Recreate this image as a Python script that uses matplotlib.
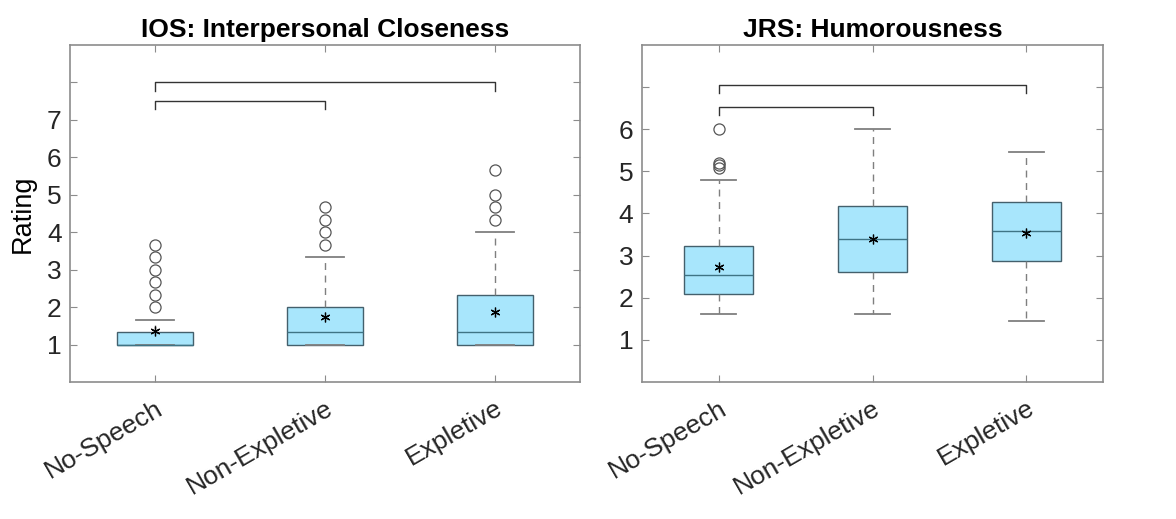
import matplotlib
matplotlib.use("Agg")
import matplotlib.pyplot as plt
import numpy as np

plt.rcParams['font.family'] = ['Liberation Sans', 'DejaVu Sans']

categories = ["No-Speech", "Non-Expletive", "Expletive"]

# IOS: Interpersonal Closeness
ios_q1 = [1.0, 1.0, 1.0]
ios_med = [1.0, 1.333, 1.333]
ios_q3 = [1.333, 2.0, 2.333]
ios_whislo = [1.0, 1.0, 1.0]
ios_whishi = [1.667, 3.333, 4.0]
ios_mean = [1.35, 1.73, 1.86]
ios_fliers = [[2.0, 2.333, 2.667, 3.0, 3.333, 3.667],
              [3.667, 4.0, 4.333, 4.667],
              [4.333, 4.667, 5.0, 5.667]]
ios_brackets = [(1, 3, 8.0), (1, 2, 7.5)]

# JRS: Humorousness
jrs_q1 = [2.08, 2.62, 2.87]
jrs_med = [2.55, 3.39, 3.58]
jrs_q3 = [3.24, 4.17, 4.28]
jrs_whislo = [1.62, 1.62, 1.44]
jrs_whishi = [4.79, 6.0, 5.46]
jrs_mean = [2.73, 3.40, 3.54]
jrs_fliers = [[5.08, 5.15, 5.21, 6.0], [], []]
jrs_brackets = [(1, 3, 7.05), (1, 2, 6.53)]

FILL = "#A8E6FC"
EDGE = "#44606C"
MED = "#3E7485"
WHIS = "#7F7F7F"
SPINE = "#8C8C8C"
TXT = "#262626"


def draw(ax, q1, med, q3, wlo, whi, mean, fliers, brackets, ylim, nticks, title, leg):
    stats = []
    for i in range(3):
        stats.append(dict(q1=q1[i], med=med[i], q3=q3[i], whislo=wlo[i],
                          whishi=whi[i], mean=mean[i], fliers=fliers[i]))
    ax.bxp(stats, positions=[1, 2, 3], widths=0.45, patch_artist=True,
           showmeans=True, meanline=False,
           boxprops=dict(facecolor=FILL, edgecolor=EDGE, linewidth=1.0),
           medianprops=dict(color=MED, linewidth=1.0),
           whiskerprops=dict(color=WHIS, linestyle=(0, (5, 4)), linewidth=1.0),
           capprops=dict(color=WHIS, linewidth=1.3),
           capwidths=0.225,
           flierprops=dict(marker='o', markerfacecolor='none', markeredgecolor='#555555',
                           markersize=8, markeredgewidth=0.9),
           meanprops=dict(marker=(6, 2, 0), markeredgecolor='black', markerfacecolor='black',
                          markersize=7, markeredgewidth=0.9),
           zorder=2)
    for a, b, y in brackets:
        ax.plot([a, a, b, b], [y - leg, y, y, y - leg], color='#333333', linewidth=1.0)
    ax.set_xlim(0.5, 3.5)
    ax.set_ylim(*ylim)
    ticks = list(range(1, nticks + 1))
    ax.set_yticks(ticks)
    ax.set_yticklabels([str(t) for t in ticks[:-1]] + [""])
    ax.set_xticks([1, 2, 3])
    ax.set_xticklabels(categories, rotation=30, ha='right', rotation_mode='anchor')
    ax.tick_params(axis='both', direction='in', length=5, color=SPINE, labelsize=19,
                   labelcolor=TXT, top=True, right=True)
    ax.tick_params(axis='x', pad=10)
    ax.tick_params(axis='y', pad=6)
    for s in ax.spines.values():
        s.set_color(SPINE)
        s.set_linewidth(1.2)
    ax.set_title(title, fontsize=19, fontweight='bold', pad=6)


fig = plt.figure(figsize=(11.76, 5.19), dpi=100)
ax1 = fig.add_axes([0.0595, 0.264, 0.4337, 0.6493])
ax2 = fig.add_axes([0.5457, 0.264, 0.3925, 0.6493])

draw(ax1, ios_q1, ios_med, ios_q3, ios_whislo, ios_whishi, ios_mean, ios_fliers,
     ios_brackets, (0, 9), 8, "IOS: Interpersonal Closeness", 0.22)
draw(ax2, jrs_q1, jrs_med, jrs_q3, jrs_whislo, jrs_whishi, jrs_mean, jrs_fliers,
     jrs_brackets, (0, 8), 7, "JRS: Humorousness", 0.2)
ax1.set_ylabel("Rating", fontsize=19.5, color='black', labelpad=8)

fig.savefig("out.png", dpi=100)
